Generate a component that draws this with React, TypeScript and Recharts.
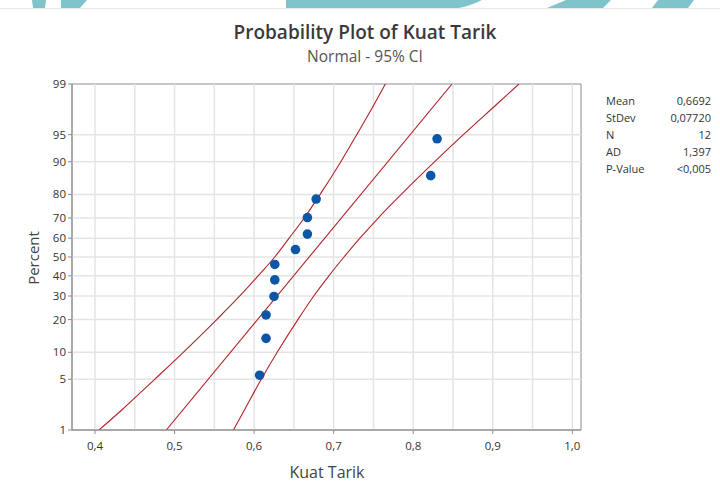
import React from 'react';
import {
  ComposedChart,
  Line,
  Scatter,
  XAxis,
  YAxis,
  ReferenceLine,
  ReferenceArea,
} from 'recharts';

// Percent levels shown on the probability axis
const PERCENT_TICKS = [1, 5, 10, 20, 30, 40, 50, 60, 70, 80, 90, 95, 99];
// Labeled Kuat Tarik ticks and the finer vertical grid
const X_TICKS = [0.4, 0.5, 0.6, 0.7, 0.8, 0.9, 1.0];
const X_GRID = [0.4, 0.45, 0.5, 0.55, 0.6, 0.65, 0.7, 0.75, 0.8, 0.85, 0.9, 0.95, 1.0];

// Observed Kuat Tarik values and their plotting positions (percent)
const KUAT_TARIK = [0.607, 0.615, 0.615, 0.625, 0.626, 0.626, 0.652, 0.667, 0.667, 0.678, 0.822, 0.83];
const PLOT_PERCENT = [5.6, 13.7, 21.8, 29.8, 37.9, 46.0, 54.0, 62.1, 70.2, 78.2, 86.3, 94.4];

// Fitted normal line (Mean 0,6692, StDev 0,07720) at 1% and 99%
const FIT_PERCENT = [1, 99];
const FIT_VALUE = [0.4896, 0.8488];

// 95% confidence band
const BAND_PERCENT = [1, 2, 5, 10, 20, 30, 40, 50, 60, 70, 80, 90, 95, 98, 99];
const BAND_LOWER = [0.405, 0.434, 0.475, 0.511, 0.553, 0.582, 0.605, 0.626, 0.644, 0.663, 0.683, 0.709, 0.729, 0.751, 0.765];
const BAND_UPPER = [0.574, 0.588, 0.609, 0.629, 0.655, 0.675, 0.694, 0.713, 0.733, 0.756, 0.785, 0.827, 0.863, 0.905, 0.933];

const STAT_LABELS = ['Mean', 'StDev', 'N', 'AD', 'P-Value'];
const STAT_VALUES = ['0,6692', '0,07720', '12', '1,397', '<0,005'];

// Inverse standard normal CDF (Acklam's approximation) for the probability scale
function probit(p: number): number {
  const a = [-3.969683028665376e1, 2.209460984245205e2, -2.759285104469687e2, 1.38357751867269e2, -3.066479806614716e1, 2.506628277459239];
  const b = [-5.447609879822406e1, 1.615858368580409e2, -1.556989798598866e2, 6.680131188771972e1, -1.328068155288572e1];
  const c = [-7.784894002430293e-3, -3.223964580411365e-1, -2.400758277161838, -2.549732539343734, 4.374664141464968, 2.938163982698783];
  const d = [7.784695709041462e-3, 3.224671290700398e-1, 2.445134137142996, 3.754408661907416];
  const pl = 0.02425;
  if (p < pl) {
    const q = Math.sqrt(-2 * Math.log(p));
    return (((((c[0] * q + c[1]) * q + c[2]) * q + c[3]) * q + c[4]) * q + c[5]) /
      ((((d[0] * q + d[1]) * q + d[2]) * q + d[3]) * q + 1);
  }
  if (p <= 1 - pl) {
    const q = p - 0.5;
    const r = q * q;
    return ((((((a[0] * r + a[1]) * r + a[2]) * r + a[3]) * r + a[4]) * r + a[5]) * q) /
      (((((b[0] * r + b[1]) * r + b[2]) * r + b[3]) * r + b[4]) * r + 1);
  }
  const q = Math.sqrt(-2 * Math.log(1 - p));
  return -(((((c[0] * q + c[1]) * q + c[2]) * q + c[3]) * q + c[4]) * q + c[5]) /
    ((((d[0] * q + d[1]) * q + d[2]) * q + d[3]) * q + 1);
}

const zOf = (pct: number) => probit(pct / 100);

const points = KUAT_TARIK.map((x, i) => ({ x, y: zOf(PLOT_PERCENT[i]) }));
const fitLine = FIT_VALUE.map((x, i) => ({ x, y: zOf(FIT_PERCENT[i]) }));
const lowerBand = BAND_LOWER.map((x, i) => ({ x, y: zOf(BAND_PERCENT[i]) }));
const upperBand = BAND_UPPER.map((x, i) => ({ x, y: zOf(BAND_PERCENT[i]) }));

const Y_TICK_VALUES = PERCENT_TICKS.map(zOf);
const X_DOMAIN: [number, number] = [0.3711, 1.0109];
const Y_DOMAIN: [number, number] = [zOf(1), zOf(99)];

const formatPercent = (v: number) => {
  let best = 0;
  Y_TICK_VALUES.forEach((t, i) => {
    if (Math.abs(t - v) < Math.abs(Y_TICK_VALUES[best] - v)) best = i;
  });
  return String(PERCENT_TICKS[best]);
};
const formatX = (v: number) => v.toFixed(1).replace('.', ',');

const FONT = '"Open Sans", "Noto Sans", sans-serif';
const RED = '#b3232a';
const BLUE = '#0b57a6';
const GRID = '#e4e4e4';
const AXIS = '#8c8c8c';

const Dot = (props: any) => {
  const { cx, cy } = props;
  if (cx == null || cy == null) return null;
  return <circle cx={cx} cy={cy} r={4.8} fill={BLUE} />;
};

const TopBanner = () => (
  <svg width={720} height={12} style={{ position: 'absolute', left: 0, top: 0 }}>
    <g fill="#7fc3cb">
      <polygon points="32,0 46,0 45,8 33,8" />
      <polygon points="61,0 87,0 80,8 61,8" />
      <path d="M286,0 L482,0 Q470,6 459,8 L286,8 Z" />
      <polygon points="566,0 611,0 603,8 547,8" />
      <polygon points="658,0 694,0 688,8 652,8" />
    </g>
    <line x1={0} x2={720} y1={8.5} y2={8.5} stroke="#e8e8e8" strokeWidth={1} />
  </svg>
);

export default function App() {
  return (
    <div
      style={{
        position: 'absolute',
        left: 0,
        top: 0,
        width: 720,
        height: 495,
        background: '#ffffff',
        fontFamily: FONT,
        overflow: 'hidden',
      }}
    >
      <TopBanner />
      <div
        style={{
          position: 'absolute',
          left: 0,
          width: 730,
          top: 19,
          textAlign: 'center',
          fontSize: 19,
          fontWeight: 600,
          color: '#3a3a3a',
        }}
      >
        Probability Plot of Kuat Tarik
      </div>
      <div
        style={{
          position: 'absolute',
          left: 0,
          width: 730,
          top: 45,
          textAlign: 'center',
          fontSize: 15.5,
          color: '#555555',
        }}
      >
        Normal - 95% CI
      </div>
      <div
        style={{
          position: 'absolute',
          left: 33,
          top: 258,
          transform: 'translate(-50%, -50%) rotate(-90deg)',
          fontSize: 15,
          color: '#444444',
          whiteSpace: 'nowrap',
        }}
      >
        Percent
      </div>
      <div
        style={{
          position: 'absolute',
          left: 327,
          top: 472,
          transform: 'translate(-50%, -50%)',
          fontSize: 16,
          color: '#444444',
          whiteSpace: 'nowrap',
        }}
      >
        Kuat Tarik
      </div>
      <div style={{ position: 'absolute', left: 606, top: 92, width: 105, fontSize: 11, color: '#333333' }}>
        {STAT_LABELS.map((label, i) => (
          <div key={label} style={{ display: 'flex', justifyContent: 'space-between', height: 17, lineHeight: '17px' }}>
            <span>{label}</span>
            <span>{STAT_VALUES[i]}</span>
          </div>
        ))}
      </div>

      <div style={{ position: 'absolute', left: 0, top: 0 }}>
        <ComposedChart width={720} height={495} margin={{ top: 84, right: 139, bottom: 35, left: 32 }}>
          <XAxis
            type="number"
            dataKey="x"
            domain={X_DOMAIN}
            allowDataOverflow
            ticks={X_TICKS}
            tickFormatter={formatX}
            interval={0}
            height={30}
            tickSize={4}
            tickMargin={8}
            stroke={AXIS}
            tick={{ fill: '#333333', fontSize: 11.5, fontFamily: FONT }}
          />
          <YAxis
            type="number"
            dataKey="y"
            domain={Y_DOMAIN}
            allowDataOverflow
            ticks={Y_TICK_VALUES}
            tickFormatter={formatPercent}
            interval={0}
            width={40}
            tickSize={4}
            stroke={AXIS}
            tick={{ fill: '#333333', fontSize: 11.5, fontFamily: FONT }}
          />
          {X_GRID.map((v) => (
            <ReferenceLine key={`gx${v}`} x={v} stroke={GRID} strokeWidth={1.5} />
          ))}
          {Y_TICK_VALUES.slice(1, -1).map((v, i) => (
            <ReferenceLine key={`gy${i}`} y={v} stroke={GRID} strokeWidth={1.5} />
          ))}
          <ReferenceArea
            x1={X_DOMAIN[0]}
            x2={X_DOMAIN[1]}
            y1={Y_DOMAIN[0]}
            y2={Y_DOMAIN[1]}
            fill="none"
            fillOpacity={0}
            stroke={AXIS}
            strokeWidth={1}
          />
          <Line data={lowerBand} dataKey="y" type="monotone" stroke={RED} strokeWidth={1.1} dot={false} isAnimationActive={false} />
          <Line data={fitLine} dataKey="y" type="linear" stroke={RED} strokeWidth={1.1} dot={false} isAnimationActive={false} />
          <Line data={upperBand} dataKey="y" type="monotone" stroke={RED} strokeWidth={1.1} dot={false} isAnimationActive={false} />
          <Scatter data={points} dataKey="y" shape={<Dot />} isAnimationActive={false} />
        </ComposedChart>
      </div>
    </div>
  );
}
